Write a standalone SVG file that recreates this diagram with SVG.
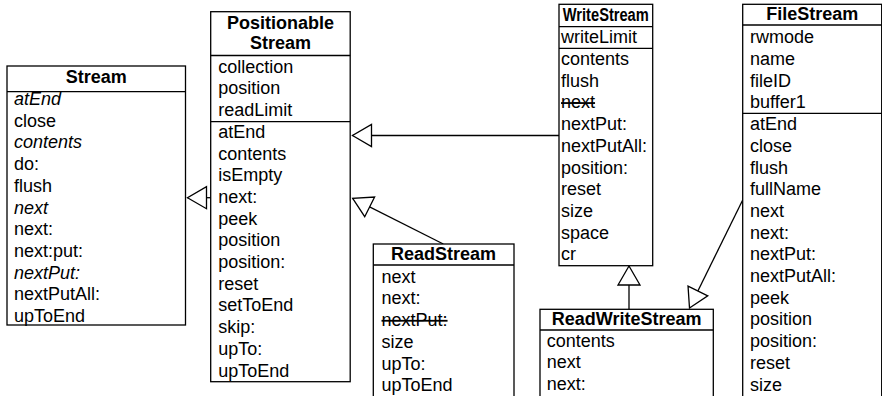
<svg xmlns="http://www.w3.org/2000/svg" width="882" height="396" viewBox="0 0 882 396">
<style>
.box{fill:#fff;stroke:#000;stroke-width:1.3}
.div{stroke:#000;stroke-width:1.3}
text{font-family:"Liberation Sans",Arial,Helvetica,sans-serif;font-size:18px;fill:#000}
.h{font-weight:bold;text-anchor:middle}
.i{font-style:italic}
.s{text-decoration:line-through}
.c{fill:none;stroke:#000;stroke-width:1.3;marker-end:url(#tri)}
</style>
<defs>
<marker id="tri" viewBox="-21 -13 23 26" refX="0" refY="0" markerWidth="23" markerHeight="26" markerUnits="userSpaceOnUse" orient="auto">
<path d="M0,0 L-19,-11 L-19,11 Z" fill="#fff" stroke="#000" stroke-width="1.3"/>
</marker>
</defs>
<g id="connectors">
<path class="c" d="M210.7,197.7 L187.5,197.7"/>
<path class="c" d="M559,135.5 L352.5,135.5"/>
<path class="c" d="M443.3,244 L352.7,198.3"/>
<path class="c" d="M629,309.3 L629,266"/>
<path class="c" d="M742.7,200 L689.5,308"/>
</g>
<g id="Stream">
<rect class="box" x="7" y="66" width="178.5" height="259"/>
<line class="div" x1="7" y1="91.7" x2="185.5" y2="91.7"/>
<text class="h" x="96.2" y="83">Stream</text>
<text x="14" y="105" class="i">atEnd</text>
<text x="14" y="126.7">close</text>
<text x="14" y="148.4" class="i">contents</text>
<text x="14" y="170.1">do:</text>
<text x="14" y="191.8">flush</text>
<text x="14" y="213.5" class="i">next</text>
<text x="14" y="235.2">next:</text>
<text x="14" y="256.9">next:put:</text>
<text x="14" y="278.6" class="i">nextPut:</text>
<text x="14" y="300.3">nextPutAll:</text>
<text x="14" y="322">upToEnd</text>
</g>
<g id="PositionableStream">
<rect class="box" x="210.7" y="11.7" width="139.5" height="370"/>
<line class="div" x1="210.7" y1="55.5" x2="350.2" y2="55.5"/>
<line class="div" x1="210.7" y1="121.7" x2="350.2" y2="121.7"/>
<text class="h" x="280.5" y="29.3">Positionable</text>
<text class="h" x="280.5" y="49.3">Stream</text>
<text x="218.3" y="72.7">collection</text>
<text x="218.3" y="94.4">position</text>
<text x="218.3" y="116.1">readLimit</text>
<text x="218.3" y="137.8">atEnd</text>
<text x="218.3" y="159.5">contents</text>
<text x="218.3" y="181.2">isEmpty</text>
<text x="218.3" y="202.9">next:</text>
<text x="218.3" y="224.6">peek</text>
<text x="218.3" y="246.3">position</text>
<text x="218.3" y="268">position:</text>
<text x="218.3" y="289.7">reset</text>
<text x="218.3" y="311.4">setToEnd</text>
<text x="218.3" y="333.1">skip:</text>
<text x="218.3" y="354.8">upTo:</text>
<text x="218.3" y="376.5">upToEnd</text>
</g>
<g id="WriteStream">
<rect class="box" x="559" y="4.3" width="93.7" height="261.4"/>
<line class="div" x1="559" y1="26.7" x2="652.7" y2="26.7"/>
<line class="div" x1="559" y1="48.3" x2="652.7" y2="48.3"/>
<text class="h" x="605.8" y="20.7" textLength="86" lengthAdjust="spacingAndGlyphs">WriteStream</text>
<text x="561" y="43.3">writeLimit</text>
<text x="561" y="65">contents</text>
<text x="561" y="86.7">flush</text>
<text x="561" y="108.4" class="s">next</text>
<text x="561" y="130.1">nextPut:</text>
<text x="561" y="151.8">nextPutAll:</text>
<text x="561" y="173.5">position:</text>
<text x="561" y="195.2">reset</text>
<text x="561" y="216.9">size</text>
<text x="561" y="238.6">space</text>
<text x="561" y="260.3">cr</text>
</g>
<g id="FileStream">
<rect class="box" x="742.7" y="4.3" width="139" height="400"/>
<line class="div" x1="742.7" y1="25" x2="881.7" y2="25"/>
<line class="div" x1="742.7" y1="113.3" x2="881.7" y2="113.3"/>
<text class="h" x="812.2" y="20">FileStream</text>
<text x="750" y="43.3">rwmode</text>
<text x="750" y="65">name</text>
<text x="750" y="86.7">fileID</text>
<text x="750" y="108.4">buffer1</text>
<text x="750" y="130.1">atEnd</text>
<text x="750" y="151.8">close</text>
<text x="750" y="173.5">flush</text>
<text x="750" y="195.2">fullName</text>
<text x="750" y="216.9">next</text>
<text x="750" y="238.6">next:</text>
<text x="750" y="260.3">nextPut:</text>
<text x="750" y="282">nextPutAll:</text>
<text x="750" y="303.7">peek</text>
<text x="750" y="325.4">position</text>
<text x="750" y="347.1">position:</text>
<text x="750" y="368.8">reset</text>
<text x="750" y="390.5">size</text>
</g>
<g id="ReadStream">
<rect class="box" x="373.3" y="244" width="140.7" height="200"/>
<line class="div" x1="373.3" y1="265" x2="514" y2="265"/>
<text class="h" x="443.6" y="260">ReadStream</text>
<text x="381.5" y="282.7">next</text>
<text x="381.5" y="304.4">next:</text>
<text x="381.5" y="326.1" class="s">nextPut:</text>
<text x="381.5" y="347.8">size</text>
<text x="381.5" y="369.5">upTo:</text>
<text x="381.5" y="391.2">upToEnd</text>
</g>
<g id="ReadWriteStream">
<rect class="box" x="540" y="309.3" width="173.3" height="200"/>
<line class="div" x1="540" y1="330" x2="713.3" y2="330"/>
<text class="h" x="626.6" y="325">ReadWriteStream</text>
<text x="546.7" y="346.7">contents</text>
<text x="546.7" y="368.4">next</text>
<text x="546.7" y="390.1">next:</text>
</g>
</svg>
